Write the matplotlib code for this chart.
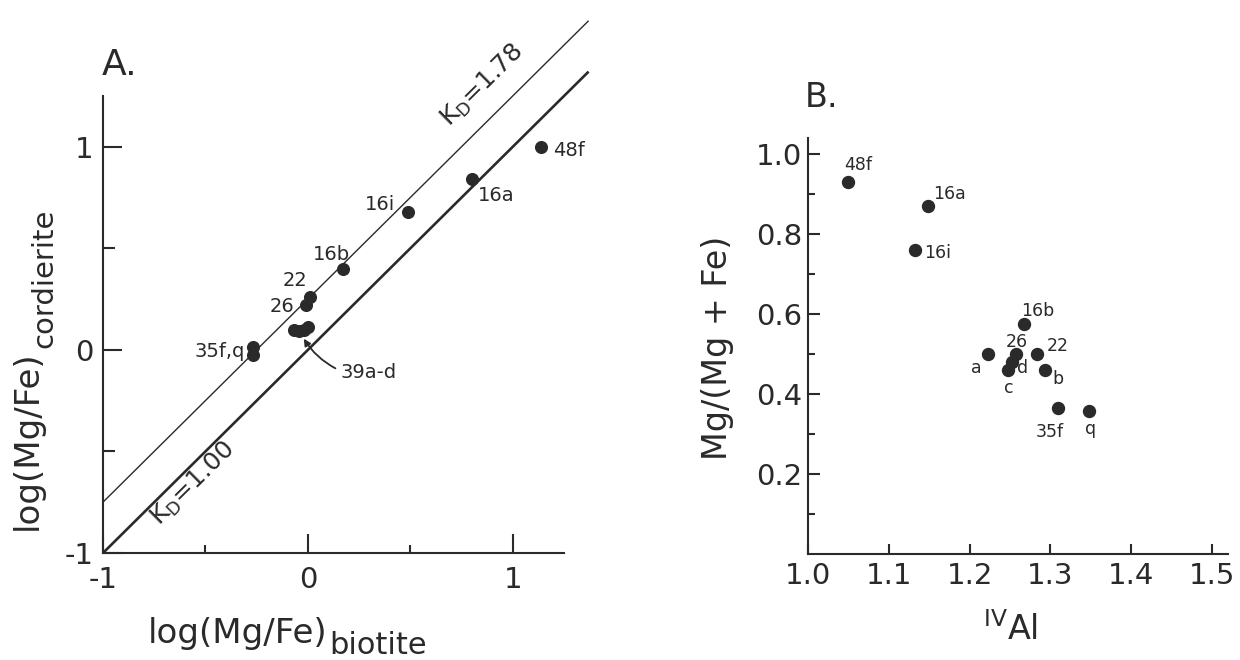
import numpy as np
import matplotlib
matplotlib.use('Agg')
import matplotlib.pyplot as plt

plt.rcParams['font.family'] = ['DejaVu Sans']
plt.rcParams['axes.unicode_minus'] = False

INK = '#2a2a2a'

# ---- panel A data : log(Mg/Fe) biotite vs cordierite
a_names = ['48f', '16a', '16i', '16b', '22', '26', '35f', '35q', '39a', '39b', '39c', '39d']
a_biotite = [1.14, 0.80, 0.49, 0.17, 0.01, -0.01, -0.27, -0.27, -0.07, -0.045, -0.02, 0.0]
a_cordierite = [1.00, 0.84, 0.68, 0.40, 0.26, 0.22, 0.015, -0.025, 0.10, 0.095, 0.10, 0.115]
kd_values = [1.00, 1.78]

# ---- panel B data : IVAl vs Mg/(Mg+Fe)
b_names = ['48f', '16a', '16i', '16b', '26', '22', 'a', 'd', 'c', 'b', '35f', 'q']
b_ival = [1.05, 1.149, 1.133, 1.268, 1.258, 1.284, 1.223, 1.253, 1.247, 1.294, 1.310, 1.348]
b_mg = [0.93, 0.87, 0.76, 0.575, 0.50, 0.50, 0.50, 0.48, 0.46, 0.46, 0.365, 0.357]

# label placement (offset in points, horizontal alignment)
a_label_pos = {'48f': (8.6, -6.5, 'left'), '16a': (4.3, -15.8, 'left'),
               '16i': (-9.4, 1.4, 'right'), '16b': (-7.9, 6.5, 'center'),
               '22': (-10.8, 7.9, 'center'), '26': (-8.6, -5.0, 'right'),
               '35f': (-5.8, -7.2, 'right')}
a_label_text = {'35f': '35f,q'}
b_label_pos = {'48f': (7.2, 8.6, 'center'), '16a': (3.6, 5.0, 'left'),
               '16i': (6.5, -5.8, 'left'), '16b': (9.4, 5.8, 'center'),
               '26': (0, 5.0, 'center'), '22': (6.5, 2.2, 'left'),
               'a': (-5.0, -13.7, 'right'), 'd': (3.6, -8.0, 'left'),
               'c': (0.7, -16.6, 'center'), 'b': (5.0, -10.0, 'left'),
               '35f': (3.6, -20.9, 'right'), 'q': (1.4, -16.6, 'center')}

W, H = 1240, 660
fig = plt.figure(figsize=(W / 100, H / 100), dpi=100)
fig.patch.set_facecolor('white')


def fx(px):
    return px / W


def fy(py):
    return 1 - py / H


def style_axes(ax):
    for s in ['top', 'right']:
        ax.spines[s].set_visible(False)
    for s in ['left', 'bottom']:
        ax.spines[s].set_linewidth(1.5)
        ax.spines[s].set_color(INK)
    ax.set_facecolor('none')


# ================= panel A
axA = fig.add_axes([fx(103), fy(553), fx(461), 457 / H])
style_axes(axA)
axA.set_xlim(-1, 1.25)
axA.set_ylim(-1, 1.25)
axA.set_xticks([-1, 0, 1])
axA.set_yticks([-1, 0, 1])
axA.set_xticks([-0.5, 0.5], minor=True)
axA.set_yticks([-0.5, 0.5], minor=True)
axA.tick_params(which='both', direction='in', color=INK, width=1.5, labelcolor=INK,
                labelsize=21)
axA.tick_params(axis='x', which='major', length=14, pad=9)
axA.tick_params(axis='x', which='minor', length=5.8)
axA.tick_params(axis='y', which='major', length=14, pad=7)
axA.tick_params(axis='y', which='minor', length=8.6)

# K_D lines  log(Mg/Fe)crd = log(Mg/Fe)bt + log(KD)
xs = np.array([-1, 1.37])
for kd, lw in zip(kd_values, [1.9, 1.0]):
    axA.plot(xs, xs + np.log10(kd), color=INK, lw=lw, clip_on=False, solid_capstyle='butt')

axA.plot(a_biotite, a_cordierite, 'o', color=INK, ms=8.4, mec=INK, clip_on=False)

for i, name in enumerate(a_names):
    if name in a_label_pos:
        dx, dy, ha = a_label_pos[name]
        axA.annotate(a_label_text.get(name, name), (a_biotite[i], a_cordierite[i]),
                     xytext=(dx, dy), textcoords='offset points', ha=ha, va='baseline',
                     fontsize=14, color=INK)

# arrow to the 39a-d cluster
i39 = a_names.index('39c')
axA.annotate('39a-d', (a_biotite[i39], a_cordierite[i39] - 0.045), xytext=(0.16, -0.113),
             textcoords='data', ha='left', va='center', fontsize=14, color=INK,
             arrowprops=dict(arrowstyle='-|>', color=INK, lw=1.3, mutation_scale=10,
                             connectionstyle='arc3,rad=-0.15', relpos=(0, 0.6),
                             shrinkA=2, shrinkB=0))

# K_D labels along the lines
axA.annotate(r'K$_\mathregular{D}$=1.78', (0.767, 0.767 + np.log10(kd_values[1])),
             xytext=(-11, 11), textcoords='offset points', rotation=44.7,
             rotation_mode='anchor', ha='left', va='baseline', fontsize=18, color=INK)
axA.annotate(r'K$_\mathregular{D}$=1.00', (-0.796, -0.796 + np.log10(kd_values[0])),
             xytext=(11, -11), textcoords='offset points', rotation=44.7,
             rotation_mode='anchor', ha='left', va='baseline', fontsize=18, color=INK)

fig.text(fx(102), fy(75), 'A.', fontsize=26, color=INK, ha='left', va='baseline')

# axis titles built from two pieces so the subscript stays large
ylab = fig.text(fx(37), fy(530), 'log(Mg/Fe)', fontsize=24.5, color=INK, rotation=90,
                rotation_mode='anchor', ha='left', va='baseline')
fig.texts[-1].axes = None
axA.annotate('cordierite', (1, 1), xycoords=ylab, xytext=(5.8, 1.5),
             textcoords='offset points', fontsize=21, color=INK, rotation=90,
             rotation_mode='anchor', ha='left', va='baseline', annotation_clip=False)
xlab = fig.text(fx(148), fy(643), 'log(Mg/Fe)', fontsize=24.5, color=INK,
                ha='left', va='baseline')
axA.annotate('biotite', (1, 0), xycoords=xlab, xytext=(1.5, -2.9),
             textcoords='offset points', fontsize=22, color=INK,
             ha='left', va='baseline', annotation_clip=False)

# ================= panel B
axB = fig.add_axes([fx(808), fy(554), fx(420), 416 / H])
style_axes(axB)
axB.set_xlim(1.0, 1.52)
axB.set_ylim(0, 1.04)
axB.set_xticks([1.0, 1.1, 1.2, 1.3, 1.4, 1.5])
axB.set_xticklabels(['1.0', '1.1', '1.2', '1.3', '1.4', '1.5'])
axB.set_yticks([0.2, 0.4, 0.6, 0.8, 1.0])
axB.set_yticklabels(['0.2', '0.4', '0.6', '0.8', '1.0'])
axB.set_yticks([0.1, 0.3, 0.5, 0.7, 0.9], minor=True)
axB.tick_params(which='both', direction='in', color=INK, width=1.5, labelcolor=INK,
                labelsize=21)
axB.tick_params(axis='x', which='major', length=7, pad=6)
axB.tick_params(axis='y', which='major', length=8.6, pad=4)
axB.tick_params(axis='y', which='minor', length=5)

axB.plot(b_ival, b_mg, 'o', color=INK, ms=8.6, mec=INK, clip_on=False)
for i, name in enumerate(b_names):
    dx, dy, ha = b_label_pos[name]
    axB.annotate(name, (b_ival[i], b_mg[i]), xytext=(dx, dy), textcoords='offset points',
                 ha=ha, va='baseline', fontsize=12.5, color=INK)

fig.text(fx(805), fy(107), 'B.', fontsize=24, color=INK, ha='left', va='baseline')
fig.text(fx(727), fy(348), 'Mg/(Mg + Fe)', fontsize=24, color=INK, rotation=90,
         rotation_mode='anchor', ha='center', va='baseline')
fig.text(fx(1011), fy(640), r'$^{\mathregular{IV}}$Al', fontsize=24, color=INK,
         ha='center', va='baseline')

fig.savefig('out.png', dpi=100, facecolor='white')
